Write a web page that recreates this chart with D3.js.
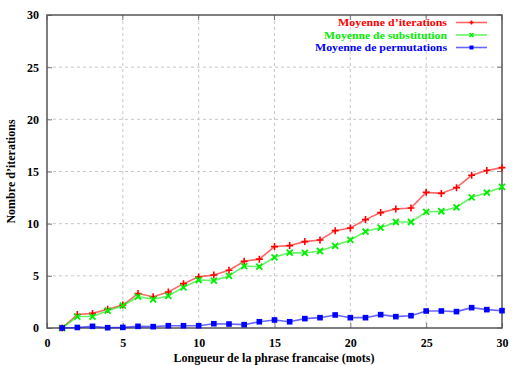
<!DOCTYPE html>
<html><head><meta charset="utf-8">
<script src="https://cdn.jsdelivr.net/npm/d3@7"></script>
<style>body{margin:0;background:#fff}svg{display:block}svg text{font-family:"Liberation Serif","DejaVu Serif",serif;font-weight:bold}</style>
</head><body>
<script>
const xs = d3.range(1, 31);
const iterations = [0,1.3,1.4,1.8,2.2,3.3,3.0,3.45,4.25,4.9,5.08,5.53,6.39,6.6,7.8,7.9,8.28,8.44,9.33,9.59,10.39,11.06,11.41,11.5,13.0,12.9,13.45,14.64,15.1,15.37];
const substitution = [0,1.1,1.1,1.66,2.14,3.0,2.75,3.07,3.9,4.6,4.54,4.99,5.94,5.88,6.78,7.22,7.19,7.38,7.88,8.44,9.24,9.62,10.16,10.16,11.12,11.19,11.57,12.53,12.97,13.52];
const permutations = [0,0.05,0.16,0.03,0.06,0.16,0.13,0.22,0.22,0.22,0.41,0.38,0.32,0.6,0.77,0.6,0.9,0.99,1.25,0.99,0.99,1.28,1.09,1.18,1.63,1.63,1.57,1.95,1.76,1.66];
const seriesNames = ["Moyenne d\u2019iterations","Moyenne de substitution","Moyenne de permutations"];
const seriesColors = ["#ff0000","#00ee00","#0000ff"];
const xTicks = [0,5,10,15,20,25,30];
const yTicks = [0,5,10,15,20,25,30];

const W=522,H=365, L=47,R=502,T=15,B=328;
const svg=d3.select("body").append("svg").attr("width",W).attr("height",H);
const x=d3.scaleLinear().domain([0,30]).range([L,R]);
const y=d3.scaleLinear().domain([0,30]).range([B,T]);

// grid
svg.append("g").selectAll("line").data(xTicks.slice(1,-1)).join("line")
 .attr("x1",d=>x(d)).attr("x2",d=>x(d)).attr("y1",T).attr("y2",B)
 .attr("stroke","#c8c8c8").attr("stroke-dasharray","3,3").attr("stroke-width",1);
svg.append("g").selectAll("line").data(yTicks.slice(1,-1)).join("line")
 .attr("y1",d=>y(d)).attr("y2",d=>y(d)).attr("x1",L).attr("x2",R)
 .attr("stroke","#c8c8c8").attr("stroke-dasharray","3,3").attr("stroke-width",1);

// axes
const xa=svg.append("g").attr("transform",`translate(0,${B})`)
 .call(d3.axisBottom(x).tickValues(xTicks).tickSize(-5).tickPadding(10));
const ya=svg.append("g").attr("transform",`translate(${L},0)`)
 .call(d3.axisLeft(y).tickValues(yTicks).tickSize(-5).tickPadding(8));
[xa,ya].forEach(a=>{
 a.select(".domain").remove();
 a.selectAll("line").attr("stroke","#777");
 a.selectAll("text").attr("font-family",null).style("font-size","12px").attr("fill","#000");
});
svg.append("g").selectAll("line").data(xTicks).join("line")
 .attr("x1",d=>x(d)).attr("x2",d=>x(d)).attr("y1",T).attr("y2",T+5).attr("stroke","#777");
svg.append("g").selectAll("line").data(yTicks).join("line")
 .attr("y1",d=>y(d)).attr("y2",d=>y(d)).attr("x1",R-5).attr("x2",R).attr("stroke","#777");

// frame
svg.append("rect").attr("x",L).attr("y",T).attr("width",R-L).attr("height",B-T)
 .attr("fill","none").attr("stroke","#555").attr("stroke-width",1.5);

const data=[iterations,substitution,permutations];
const line=d3.line().x((d,i)=>x(xs[i])).y(d=>y(d));
data.forEach((vals,k)=>{
 const g=svg.append("g");
 g.append("path").datum(vals).attr("d",line).attr("fill","none")
  .attr("stroke",seriesColors[k]).attr("stroke-width",1.6).attr("stroke-opacity",0.6);
 const pts=g.selectAll("g").data(vals).join("g").attr("transform",(d,i)=>`translate(${x(xs[i])},${y(d)})`);
 if(k===0){
  pts.append("path").attr("d","M-3.5,0H3.5M0,-3.5V3.5").attr("stroke",seriesColors[k]).attr("stroke-width",1.6);
 } else if(k===1){
  pts.append("path").attr("d","M-3,-3L3,3M-3,3L3,-3").attr("stroke",seriesColors[k]).attr("stroke-width",1.8);
 } else {
  pts.append("rect").attr("x",-2.8).attr("y",-2.8).attr("width",5.6).attr("height",5.6).attr("fill",seriesColors[k]);
 }
});

// legend
const ly=[22.5,35,47.5];
const lw=[109,123,132];
seriesNames.forEach((n,k)=>{
 svg.append("text").attr("x",447).attr("y",ly[k]).attr("dy","0.35em").attr("text-anchor","end")
  .attr("textLength",lw[k]).attr("lengthAdjust","spacingAndGlyphs")
  .style("font-size","11px").attr("fill",seriesColors[k]).text(n);
 svg.append("line").attr("x1",456).attr("x2",487).attr("y1",ly[k]).attr("y2",ly[k])
  .attr("stroke",seriesColors[k]).attr("stroke-width",1.6).attr("stroke-opacity",0.6);
 const cx=471.5, cy=ly[k];
 if(k===0) svg.append("path").attr("d",`M${cx-2},${cy}H${cx+2}M${cx},${cy-2}V${cy+2}`).attr("stroke",seriesColors[k]).attr("stroke-width",1.5);
 else if(k===1) svg.append("path").attr("d",`M${cx-2},${cy-2}L${cx+2},${cy+2}M${cx-2},${cy+2}L${cx+2},${cy-2}`).attr("stroke",seriesColors[k]).attr("stroke-width",1.5);
 else svg.append("rect").attr("x",cx-2).attr("y",cy-2).attr("width",4).attr("height",4).attr("fill",seriesColors[k]);
});

// axis titles
svg.append("text").attr("x",274).attr("y",362).attr("text-anchor","middle")
 .style("font-size","12px").text("Longueur de la phrase francaise (mots)");
svg.append("text").attr("transform",`translate(15,${(T+B)/2}) rotate(-90)`).attr("text-anchor","middle")
 .style("font-size","12px").text("Nombre d\u2019iterations");
</script>
</body></html>
